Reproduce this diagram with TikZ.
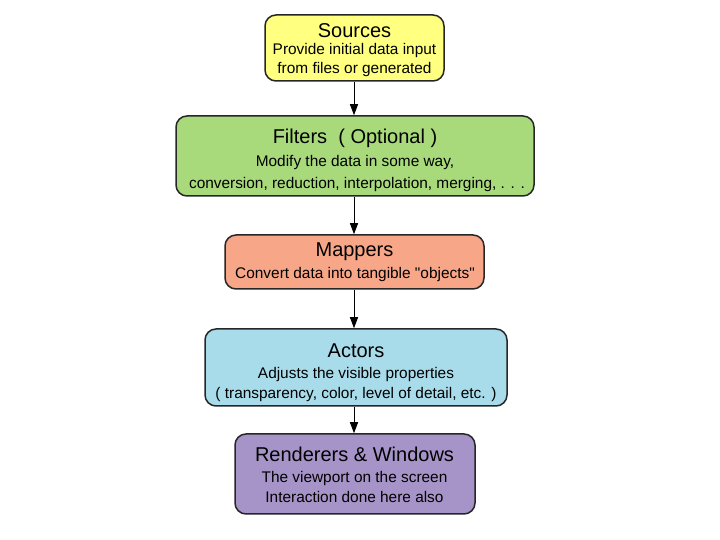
\documentclass[tikz,border=0pt]{standalone}
\usepackage{fontspec}
\setmainfont{Liberation Sans}[Ligatures=TeXOff]
\usetikzlibrary{arrows.meta}
\definecolor{cSrc}{RGB}{255,255,128}
\definecolor{cFil}{RGB}{168,218,124}
\definecolor{cMap}{RGB}{248,166,136}
\definecolor{cAct}{RGB}{168,220,234}
\definecolor{cRen}{RGB}{166,148,200}
\tikzset{
  stagebox/.style={draw=black!85, line width=1.5pt, rounded corners=11pt, inner sep=0pt},
  ttltext/.style={anchor=base, inner sep=0pt, font=\fontsize{20}{22}\selectfont},
  bodytext/.style={anchor=base, inner sep=0pt, font=\fontsize{15.4}{18}\selectfont},
  flow/.style={draw=black, line width=1pt, -{Triangle[width=8pt,length=11pt]}},
}
\begin{document}
\begin{tikzpicture}[x=1pt,y=1pt]
\useasboundingbox (0,0) rectangle (720,540);
% boxes
\node[stagebox, fill=cSrc, minimum width=179pt, minimum height=66pt] (src) at (354.5,492) {};
\node[stagebox, fill=cFil, minimum width=358pt, minimum height=80pt] (fil) at (355,384) {};
\node[stagebox, fill=cMap, minimum width=259pt, minimum height=54pt] (map) at (354.5,278) {};
\node[stagebox, fill=cAct, minimum width=302pt, minimum height=77pt] (act) at (356,172.5) {};
\node[stagebox, fill=cRen, minimum width=240pt, minimum height=80pt] (ren) at (355,66) {};
% texts (baselines)
\node[ttltext]  (srcT)  at (354.5,502) {Sources};
\node[bodytext] (srcA)  at (354.5,485) {Provide initial data input};
\node[bodytext] (srcB)  at (354.5,466.5) {from files or generated};
\node[ttltext]  (filT)  at (355,396) {Filters~~( Optional )};
\node[bodytext] (filA)  at (355,373.5) {Modify the data in some way,};
\node[bodytext] (filB)  at (357,351.5) {conversion, reduction, interpolation, merging, . . .};
\node[ttltext]  (mapT)  at (354.5,283) {Mappers};
\node[bodytext] (mapA)  at (355,261) {Convert data into tangible "objects"};
\node[ttltext]  (actT)  at (356,182) {Actors};
\node[bodytext] (actA)  at (356,161.5) {Adjusts the visible properties};
\node[bodytext] (actB)  at (356,141.5) {( transparency, color, level of detail, etc. )};
\node[ttltext]  (renT)  at (354.5,78) {Renderers \& Windows};
\node[bodytext] (renA)  at (354.5,57) {The viewport on the screen};
\node[bodytext] (renB)  at (354.5,37) {Interaction done here also};
% connectors
\coordinate (x0) at (354,0);
\draw[flow] (x0 |- src.south) -- (x0 |- fil.north);
\draw[flow] (x0 |- fil.south) -- (x0 |- map.north);
\draw[flow] (x0 |- map.south) -- (x0 |- act.north);
\draw[flow] (x0 |- act.south) -- (x0 |- ren.north);
\end{tikzpicture}
\end{document}
